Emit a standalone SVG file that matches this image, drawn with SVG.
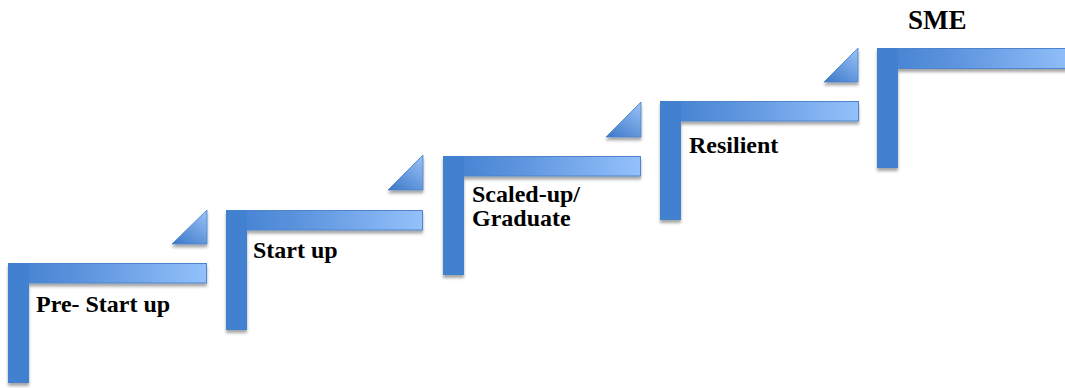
<svg xmlns="http://www.w3.org/2000/svg" width="1065" height="388" viewBox="0 0 1065 388">
<defs>
<linearGradient id="hg" x1="0" y1="0" x2="1" y2="0">
<stop offset="0" stop-color="#4280D0"/>
<stop offset="0.35" stop-color="#5A92DC"/>
<stop offset="1" stop-color="#94C1FB"/>
</linearGradient>
<linearGradient id="tg" x1="0" y1="1" x2="0.7" y2="0">
<stop offset="0" stop-color="#3C78C8"/>
<stop offset="1" stop-color="#8FBAF2"/>
</linearGradient>
<filter id="sh" x="-10%" y="-10%" width="130%" height="140%">
<feDropShadow dx="0" dy="3" stdDeviation="1.8" flood-color="#000" flood-opacity="0.35"/>
</filter>
</defs>
<style>
.L{filter:url(#sh)}
.v{fill:#4280D0}
.h{fill:url(#hg);stroke:#4D84CC;stroke-width:1}
.t{fill:url(#tg);stroke:#4A80C8;stroke-width:0.8;filter:url(#sh)}
.lbl{font-family:"Liberation Serif","Times New Roman",serif;font-weight:bold;font-size:24px;fill:#000}
.big{font-size:27px}
</style>
<g id="step1">
<g class="L">
<rect class="h" x="8.5" y="263.5" width="198" height="19.5"/>
<rect class="v" x="8" y="263" width="21" height="120"/>
</g>
<polygon class="t" points="172,244 207,244 207,210"/>
<text class="lbl" x="36" y="312">Pre- Start up</text>
</g>
<g id="step2">
<g class="L">
<rect class="h" x="226.5" y="210.5" width="196" height="19.5"/>
<rect class="v" x="226" y="210" width="21" height="120"/>
</g>
<polygon class="t" points="388,190 423,190 423,155"/>
<text class="lbl" x="253" y="258">Start up</text>
</g>
<g id="step3">
<g class="L">
<rect class="h" x="443.5" y="156.5" width="197" height="19.5"/>
<rect class="v" x="443" y="156" width="21" height="119"/>
</g>
<polygon class="t" points="606,137 641,137 641,102"/>
<text class="lbl" x="472" y="202">Scaled-up/</text>
<text class="lbl" x="472" y="226">Graduate</text>
</g>
<g id="step4">
<g class="L">
<rect class="h" x="660.5" y="101.5" width="198" height="19.5"/>
<rect class="v" x="660" y="101" width="21" height="119"/>
</g>
<polygon class="t" points="824,82 858,82 858,48"/>
<text class="lbl" x="689" y="153">Resilient</text>
</g>
<g id="step5">
<g class="L">
<rect class="h" x="877.5" y="48.5" width="200" height="20"/>
<rect class="v" x="877" y="48" width="21" height="120"/>
</g>
<text class="lbl big" x="908" y="29">SME</text>
</g>
<g id="connectors"></g>
</svg>
